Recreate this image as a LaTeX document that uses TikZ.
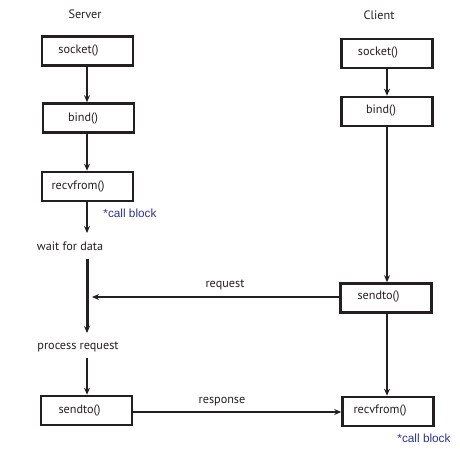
\documentclass[tikz,border=0pt]{standalone}
\usepackage{fontspec}
\setmainfont{PT Sans}
\newfontfamily\arialfont{Liberation Sans}
\usetikzlibrary{arrows.meta,calc}
\definecolor{ink}{HTML}{231F20}
\definecolor{navy}{HTML}{2E3192}
\begin{document}
\begin{tikzpicture}[x=1pt,y=-1pt,
  box/.style={draw=ink,line width=2.6pt,minimum width=91pt,minimum height=29pt,inner sep=0pt},
  txt/.style={text=ink,font=\fontsize{12.2}{14}\selectfont,inner sep=1pt},
  blk/.style={text=navy,font=\arialfont\fontsize{11.8}{14}\selectfont,inner sep=0pt},
  arr/.style={draw=ink,line width=2pt,-{Stealth[length=7pt,width=6pt]}},
  harr/.style={draw=ink,line width=1.6pt,-{Stealth[length=7pt,width=6pt]}},
  thk/.style={draw=ink,line width=3pt}]
\useasboundingbox (0,0) rectangle (460,452);
% labels
\node[txt] (server) at (85,14) {Server};
\node[txt] (client) at (379,15) {Client};
% server boxes
\node[box] (ss) at (87.5,51) {};
\node[txt] (sst) at (78.5,50) {socket()};
\node[box] (sb) at (88.5,118) {};
\node[txt] (sbt) at (83,118) {bind()};
\node[box] (sr) at (87.5,186.5) {};
\node[txt] (srt) at (78,186) {recvfrom()};
\node[blk] (cb1) at (130,213) {*call block};
\node[txt] (wait) at (70,246) {wait for data};
\node[txt] (proc) at (78,347) {process request};
\node[box] (ssd) at (86.5,410.5) {};
\node[txt] (ssdt) at (79.5,410) {sendto()};
% client boxes
\node[box] (cs) at (387,53.5) {};
\node[txt] (cst) at (378,52) {socket()};
\node[box] (cbd) at (387,111.5) {};
\node[txt] (cbdt) at (381,110) {bind()};
\node[box] (csd) at (386,298) {};
\node[txt] (csdt) at (378.5,296) {sendto()};
\node[box] (cr) at (388,411.5) {};
\node[txt] (crt) at (380,410) {recvfrom()};
\node[blk] (cb2) at (424,438) {*call block};
\node[txt] (req) at (225,285) {request};
\node[txt] (resp) at (222,402) {response};
% server connectors
\draw[arr] (ss.south -| 87,0) -- (sb.north -| 87,0);
\draw[arr] (sb.south -| 87,0) -- (sr.north -| 87,0);
\coordinate (w1) at (87,233);
\draw[arr] (sr.south -| w1) -- (w1);
\coordinate (w2) at (87,259);
\coordinate (w3) at (87,333);
\draw[thk] (w2) -- ($(w3)+(0,-6)$);
\draw[arr] (w2) -- (w3);
\coordinate (p1) at (87,358);
\draw[arr] (p1) -- (ssd.north -| p1);
% client connectors
\draw[arr] (cs.south -| 387,0) -- (cbd.north -| 387,0);
\draw[arr] (cbd.south -| 387,0) -- (csd.north -| 387,0);
\draw[arr] (csd.south -| 387,0) -- (cr.north -| 387,0);
% messages
\coordinate (rq) at (92,297);
\draw[harr] (csd.west |- rq) -- (rq);
\draw[harr] (ssd.east |- 0,412) -- (cr.west |- 0,412);
\end{tikzpicture}
\end{document}
